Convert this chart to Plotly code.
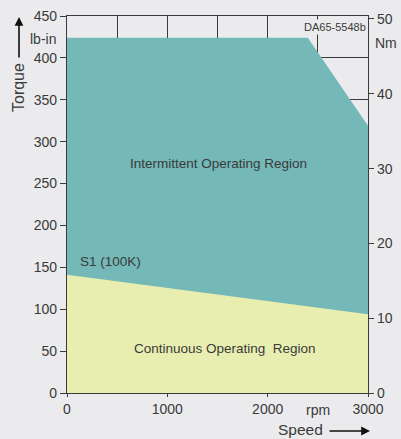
import plotly.graph_objects as go

# Data
speed_int = [0, 2400, 3000]
torque_int = [424, 424, 319]
speed_cont = [0, 3000]
torque_cont = [141, 94]

x_tickvals = [0, 1000, 2000, 3000]
x_ticktext = ["0", "1000", "2000", "3000"]
y_tickvals = [0, 50, 100, 150, 200, 250, 300, 350, 400, 450]
y2_tickvals = [0, 10, 20, 30, 40, 50]

BG = "#ebebed"
TEAL = "#74b8b8"
YELLOW = "#e8eeb0"
DARK = "#3a3a3a"
FONT = "Arial, Liberation Sans, sans-serif"

fig = go.Figure()
fig.add_trace(go.Scatter(x=speed_int, y=torque_int, mode="lines", line=dict(width=0),
                         fill="tozeroy", fillcolor=TEAL, hoverinfo="skip", showlegend=False))
fig.add_trace(go.Scatter(x=speed_cont, y=torque_cont, mode="lines", line=dict(width=0),
                         fill="tozeroy", fillcolor=YELLOW, hoverinfo="skip", showlegend=False))
# invisible trace to activate right axis
fig.add_trace(go.Scatter(x=[0], y=[0], yaxis="y2", mode="markers", marker=dict(opacity=0),
                         hoverinfo="skip", showlegend=False))

fig.update_layout(
    template="none",
    width=401, height=439,
    margin=dict(l=67, r=33, t=16, b=46, autoexpand=False),
    paper_bgcolor=BG, plot_bgcolor=BG,
    font=dict(family=FONT, size=14, color=DARK),
    showlegend=False,
    xaxis=dict(range=[0, 3000], tickvals=x_tickvals, ticktext=x_ticktext, automargin=False,
               ticks="outside", ticklen=3, tickcolor=DARK,
               showline=True, linecolor=DARK, linewidth=1.2, mirror=True,
               showgrid=True, gridcolor=DARK, gridwidth=1,
               minor=dict(dtick=500, showgrid=True, gridcolor=DARK, gridwidth=1, ticks=""),
               zeroline=False, fixedrange=True),
    yaxis=dict(range=[0, 450], tickvals=y_tickvals, automargin=False,
               ticks="outside", ticklen=6, tickcolor=DARK,
               showline=True, linecolor=DARK, linewidth=1.2,
               showgrid=True, gridcolor=DARK, gridwidth=1,
               zeroline=False, fixedrange=True),
    yaxis2=dict(range=[0, 50.4], tickvals=y2_tickvals, overlaying="y", side="right",
                automargin=False,
                ticks="outside", ticklen=5, tickcolor=DARK,
                showline=True, linecolor=DARK, linewidth=1.2,
                showgrid=False, zeroline=False, fixedrange=True),
)

ann = [
    dict(text="Intermittent Operating Region", x=1510, y=274, xref="x", yref="y",
         showarrow=False, font=dict(size=13.5)),
    dict(text="Continuous Operating\u00a0 Region", x=1575, y=52.6, xref="x", yref="y",
         showarrow=False, font=dict(size=13.5)),
    dict(text="S1 (100K)", x=110, y=157, xref="x", yref="y", xanchor="left",
         showarrow=False, font=dict(size=13.5)),
    dict(text="DA65-5548b", x=3000, y=436.5, xref="x", yref="y", xanchor="right",
         showarrow=False, font=dict(size=11), bgcolor=BG, borderpad=1),
    dict(text="lb-in", x=58, y=39, xref="paper", yref="paper", showarrow=False, xanchor="right"),
    dict(text="Nm", x=373, y=43, xref="paper", yref="paper", showarrow=False, xanchor="left"),
    dict(text="rpm", x=2500, y=410, xref="x", yref="paper", showarrow=False),
    dict(text="Torque", x=18, y=88, xref="paper", yref="paper", showarrow=False, textangle=-90,
         font=dict(size=16)),
    dict(text="Speed", x=300, y=429, xref="paper", yref="paper", showarrow=False,
         font=dict(size=15.5)),
]
# convert pixel-specified paper positions
W, H = 401, 439
l, r, t, b = 67, 33, 16, 46
pw, ph = W - l - r, H - t - b
for a in ann:
    a.setdefault("xanchor", "center")
    a.setdefault("yanchor", "middle")
    if a.get("xref") == "paper":
        a["x"] = (a["x"] - l) / pw
    if a.get("yref") == "paper":
        a["y"] = (H - b - a["y"]) / ph
    fig.add_annotation(**a)

# arrows
fig.add_annotation(x=(19 - l) / pw, y=(H - b - 17) / ph, xref="paper", yref="paper",
                   ax=0, ay=42, axref="pixel", ayref="pixel", text="", showarrow=True,
                   arrowhead=2, arrowsize=1.1, arrowwidth=1.6, arrowcolor="#111")
fig.add_annotation(x=(370 - l) / pw, y=(H - b - 431) / ph, xref="paper", yref="paper",
                   ax=-42, ay=0, axref="pixel", ayref="pixel", text="", showarrow=True,
                   arrowhead=2, arrowsize=1.1, arrowwidth=1.6, arrowcolor="#111")

fig.write_html("out.html", config={"displayModeBar": False},
               post_script="document.body.style.margin='0';document.body.style.overflow='hidden';")
